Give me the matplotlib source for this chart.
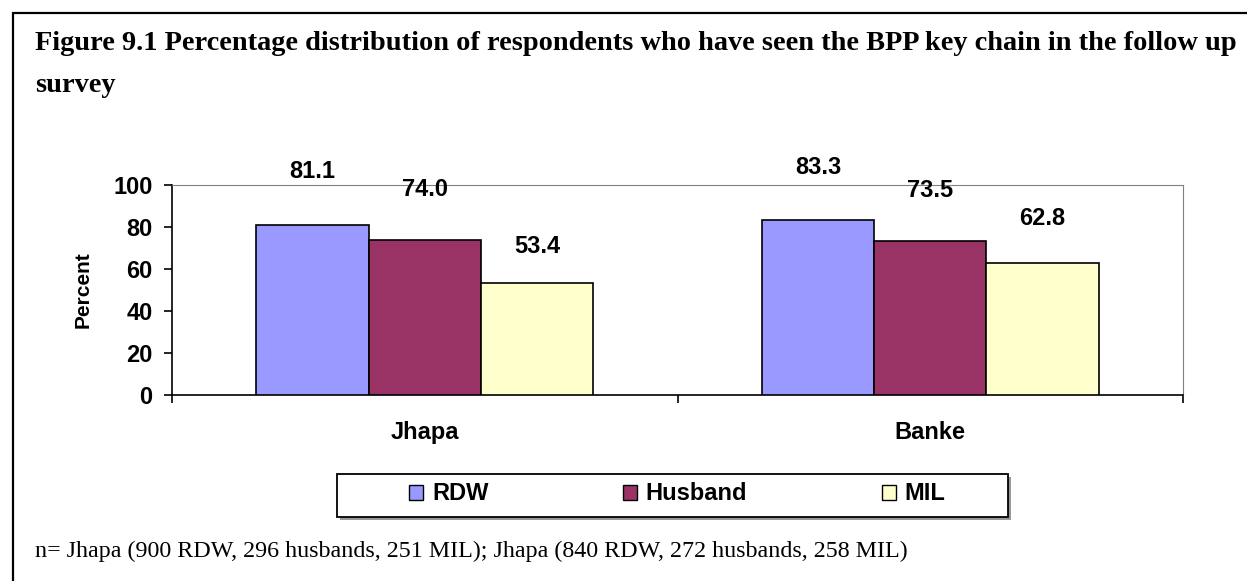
import numpy as np
import matplotlib
matplotlib.use('Agg')
import matplotlib.pyplot as plt
from matplotlib.patches import Patch, Rectangle

# data
districts = ['Jhapa', 'Banke']
groups = ['RDW', 'Husband', 'MIL']
rdw = [81.1, 83.3]
husband = [74.0, 73.5]
mil = [53.4, 62.8]
colors = ['#9999FF', '#993366', '#FFFFCC']

# label offsets above bar tops (points), per series / district
label_offsets = [[38, 38], [36, 36], [26, 32]]

title_lines = ['Figure 9.1 Percentage distribution of respondents who have seen the BPP key chain in the follow up',
               'survey']
note = 'n= Jhapa (900 RDW, 296 husbands, 251 MIL); Jhapa (840 RDW, 272 husbands, 258 MIL)'

W, H = 1247, 581
fig = plt.figure(figsize=(W / 100, H / 100), dpi=100)
ax = fig.add_axes([172 / W, 1 - 395 / H, (1183 - 172) / W, 210 / H])

x = np.arange(len(districts))
bw = 1 / 4.5
series = [rdw, husband, mil]
for i, vals in enumerate(series):
    pos = x + (i - 1) * bw
    ax.bar(pos, vals, width=bw, color=colors[i], edgecolor='black', linewidth=1.2, zorder=3)
    for xp, v, off in zip(pos, vals, label_offsets[i]):
        ax.annotate(f'{v:.1f}', (xp, v), xytext=(0, off), textcoords='offset points',
                    ha='center', va='center', fontsize=17, fontweight='bold', family='Liberation Sans')

ax.set_xlim(-0.5, 1.5)
ax.set_ylim(0, 100)
ax.set_yticks(range(0, 101, 20))
ax.set_xticks([-0.5, 0.5, 1.5])
ax.set_xticklabels([])
ax.set_xticks(x, minor=True)
ax.set_xticklabels(districts, minor=True)
ax.tick_params(axis='x', which='minor', length=0, pad=19)
ax.tick_params(axis='x', which='major', length=6, width=1.2, direction='out')
ax.tick_params(axis='y', length=6, width=1.2, direction='out', pad=8)
for lab in ax.get_xticklabels(minor=True) + ax.get_yticklabels():
    lab.set_fontsize(17)
    lab.set_fontweight('bold')
    lab.set_family('Liberation Sans')
ax.set_ylabel('Percent', fontsize=15, fontweight='bold', family='Liberation Sans', labelpad=15)

ax.spines['left'].set_linewidth(1.2)
ax.spines['bottom'].set_linewidth(1.2)
ax.spines['top'].set_color('#808080')
ax.spines['right'].set_color('#808080')

# title and note
for yb, line in zip([50, 92], title_lines):
    fig.text(35 / W, 1 - yb / H, line, ha='left', va='baseline', fontsize=20.4, fontweight='bold',
             family='Liberation Serif')
fig.text(35 / W, 1 - 557 / H, note, ha='left', va='baseline', fontsize=17.3, family='Liberation Serif')

# legend box with shadow
fig.patches.append(Rectangle((340 / W, 1 - 520 / H), (1008 - 337) / W, 43 / H, transform=fig.transFigure,
                             facecolor='#999999', edgecolor='none', zorder=1))
fig.patches.append(Rectangle((337 / W, 1 - 517 / H), (1008 - 337) / W, 43 / H, transform=fig.transFigure,
                             facecolor='white', edgecolor='black', linewidth=1.3, zorder=2))
handles = [Patch(facecolor=c, edgecolor='black', linewidth=1.0) for c in colors]
leg = fig.legend(handles, groups, loc='center left', bbox_to_anchor=(409 / W, 1 - 494 / H), ncol=3,
                 frameon=False, handlelength=0.59, handleheight=0.59, handletextpad=0.38,
                 columnspacing=5.7, borderpad=0, borderaxespad=0,
                 prop={'family': 'Liberation Sans', 'weight': 'bold', 'size': 17})
leg.set_zorder(5)

# outer frame
fig.patches.append(Rectangle((13 / W, -0.1), 1.2, 1.1 - 13 / H, transform=fig.transFigure,
                             facecolor='none', edgecolor='black', linewidth=1.6))

fig.savefig('out.png', dpi=100)
